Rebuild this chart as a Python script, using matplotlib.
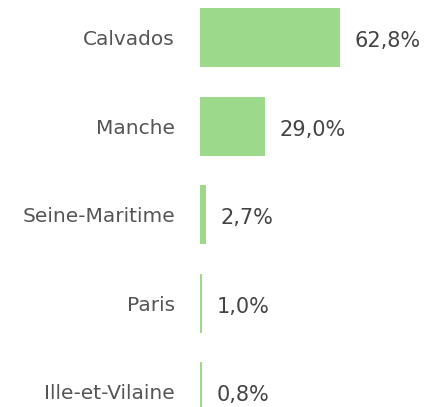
import matplotlib.pyplot as plt

# departements and share of the total (%)
departements = ['Calvados', 'Manche', 'Seine-Maritime', 'Paris', 'Ille-et-Vilaine']
parts = [62.8, 29.0, 2.7, 1.0, 0.8]
etiquettes = ['62,8%', '29,0%', '2,7%', '1,0%', '0,8%']

plt.rcParams['font.family'] = ['DejaVu Sans']

fig = plt.figure(figsize=(4.26, 4.07), dpi=100)
ax = fig.add_axes([200 / 426, 0, 226 / 426, 1])

pos = list(range(len(departements)))
ax.barh(pos, parts, height=0.667, color='#9dd98b')

ax.set_xlim(0, 226 / 140 * 62.8)
ax.set_ylim(4.175, -0.424)

for p, v, t in zip(pos, parts, etiquettes):
    ax.text(v + 6.6, p + 0.04, t, va='center', ha='left', fontsize=15, color='#444444')

ax.set_yticks(pos)
ax.set_yticklabels(departements, fontsize=14.5, color='#555555')
ax.tick_params(axis='y', length=0, pad=18)
ax.set_xticks([])
for s in ax.spines.values():
    s.set_visible(False)

fig.savefig('out.png', dpi=100)
